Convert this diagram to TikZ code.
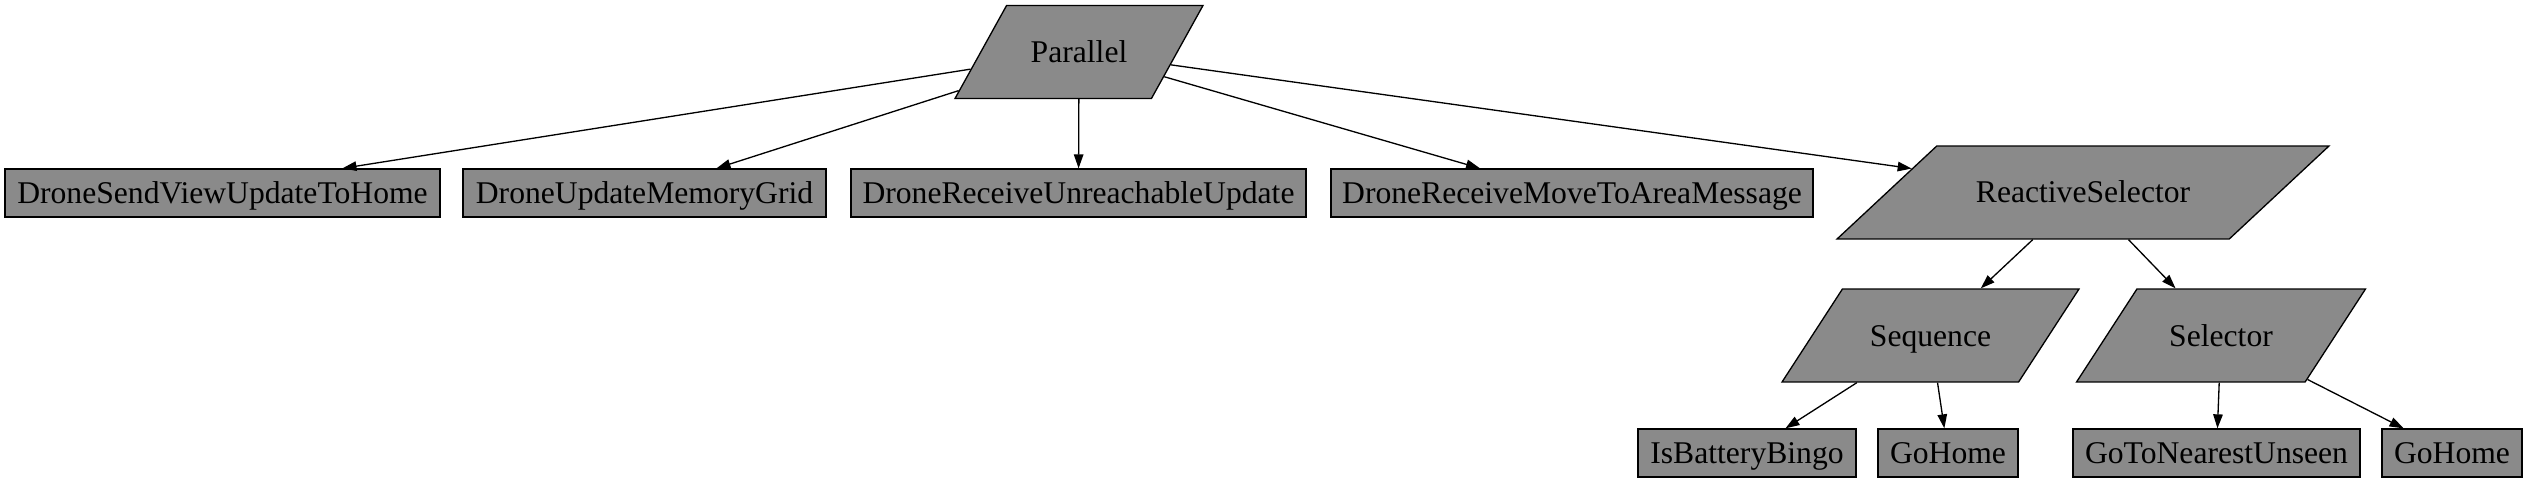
\documentclass[tikz,border=0pt]{standalone}
\usepackage{fontspec}
\setmainfont{Liberation Serif}
\usetikzlibrary{shapes.geometric,arrows.meta}
\definecolor{nodegray}{HTML}{8A8A8A}

\begin{document}
\begin{tikzpicture}[x=0.02cm, y=-0.02cm,
  every node/.style={draw, fill=nodegray, line width=0.75pt, inner sep=0pt,
    font=\fontsize{18}{21}\selectfont, text height=0.44cm, text depth=0.02cm,
    minimum height=0.96cm},
  task/.style={rectangle},
  comp/.style={trapezium, trapezium stretches body, inner ysep=0.70cm},
  edge/.style={-{Triangle[length=0.28cm,width=0.19cm]}, line width=0.75pt}]
\useasboundingbox (0,0) rectangle (2528,483);
\node[comp, trapezium left angle=61, trapezium right angle=119, minimum width=4.96cm] (PAR) at (1079,52) {Parallel};
\node[task, minimum width=8.70cm] (SV) at (222.5,193) {DroneSendViewUpdateToHome};
\node[task, minimum width=7.26cm] (UM) at (644.5,193) {DroneUpdateMemoryGrid};
\node[task, minimum width=9.10cm] (RU) at (1078.5,193) {DroneReceiveUnreachableUpdate};
\node[task, minimum width=9.64cm] (RM) at (1572,193) {DroneReceiveMoveToAreaMessage};
\node[comp, trapezium left angle=43, trapezium right angle=137, minimum width=9.84cm] (RS) at (2083,192.5) {ReactiveSelector};
\node[comp, trapezium left angle=57, trapezium right angle=123, minimum width=5.94cm] (SEQ) at (1930.5,335.5) {Sequence};
\node[comp, trapezium left angle=57, trapezium right angle=123, minimum width=5.78cm] (SEL) at (2221,335.5) {Selector};
\node[task, minimum width=4.36cm] (IB) at (1747,453) {IsBatteryBingo};
\node[task, minimum width=2.80cm] (GH1) at (1948,453) {GoHome};
\node[task, minimum width=5.74cm] (GN) at (2216.5,453) {GoToNearestUnseen};
\node[task, minimum width=2.80cm] (GH2) at (2452,453) {GoHome};
\draw[edge] (PAR) -- ([xshift=2.4cm]SV.north);
\draw[edge] (PAR) -- ([xshift=1.44cm]UM.north);
\draw[edge] (PAR) -- (RU);
\draw[edge] (PAR) -- ([xshift=-1.84cm]RM.north);
\draw[edge] (PAR) -- (RS);
\draw[edge] (RS) -- (SEQ);
\draw[edge] (RS) -- (SEL);
\draw[edge] (SEQ) -- (IB);
\draw[edge] (SEQ) -- (GH1);
\draw[edge] (SEL) -- (GN);
\draw[edge] (SEL) -- (GH2);
\end{tikzpicture}
\end{document}
